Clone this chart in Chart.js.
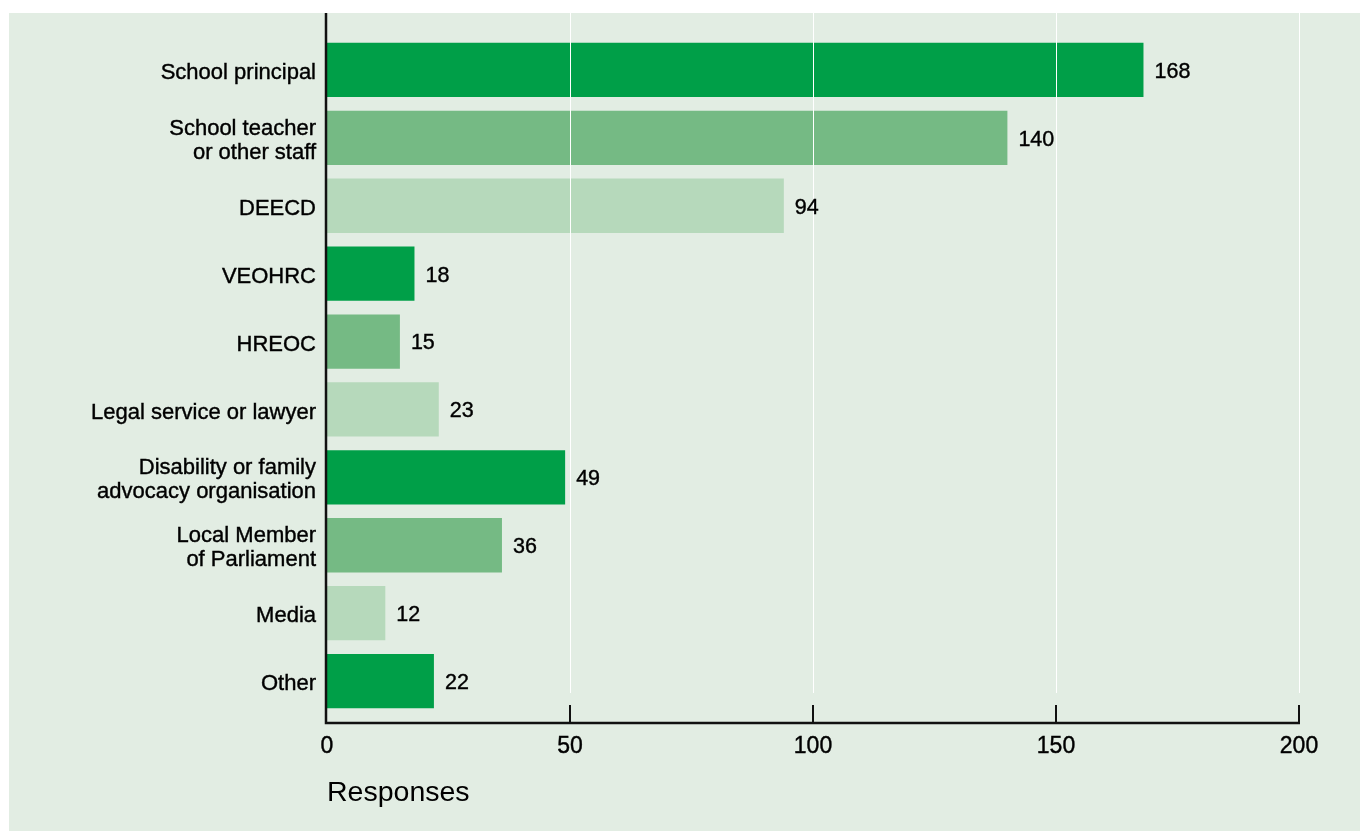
<!DOCTYPE html>
<html>
<head>
<meta charset="utf-8">
<script src="https://cdn.jsdelivr.net/npm/chart.js@4.4.1/dist/chart.umd.min.js"></script>
<style>
  html, body { margin: 0; padding: 0; background: #ffffff; }
  #wrap { position: relative; width: 1360px; height: 831px; }
</style>
</head>
<body>
<div id="wrap"><canvas id="c" width="1360" height="831"></canvas></div>
<script>
const categories = [
  'School principal',
  ['School teacher', 'or other staff'],
  'DEECD',
  'VEOHRC',
  'HREOC',
  'Legal service or lawyer',
  ['Disability or family', 'advocacy organisation'],
  ['Local Member', 'of Parliament'],
  'Media',
  'Other'
];
const responses = [168, 140, 94, 18, 15, 23, 49, 36, 12, 22];
const xTicks = [0, 50, 100, 150, 200];
const axisTitle = 'Responses';

const DARK = '#009f48', MID = '#75ba84', LIGHT = '#b6d9bb';
const PANEL = '#e2ede3';
const barColors = responses.map((v, i) => [DARK, MID, LIGHT][i % 3]);
const FONT = "'Liberation Sans', Arial, Helvetica, sans-serif";
const TEXT = '#000000';

const decor = {
  id: 'decor',
  beforeDraw(chart) {
    const ctx = chart.ctx;
    ctx.save();
    ctx.fillStyle = PANEL;
    ctx.fillRect(9, 13, chart.width - 9, chart.height - 13);
    ctx.restore();
  },
  afterDatasetsDraw(chart) {
    const ctx = chart.ctx;
    const xs = chart.scales.x;
    const area = chart.chartArea;
    const axisY = area.bottom + 8;
    const panelTop = 13;
    ctx.save();
    // white gridlines over bars
    ctx.strokeStyle = '#ffffff';
    ctx.lineWidth = 1;
    xTicks.forEach(t => {
      if (t === 0) return;
      const x = Math.round(xs.getPixelForValue(t)) + 0.5;
      ctx.beginPath();
      ctx.moveTo(x, panelTop);
      ctx.lineTo(x, axisY - 30);
      ctx.stroke();
    });
    // value labels
    ctx.fillStyle = TEXT;
    ctx.strokeStyle = TEXT;
    ctx.lineWidth = 0.4;
    ctx.font = '21.5px ' + FONT;
    ctx.textAlign = 'left';
    ctx.textBaseline = 'middle';
    const meta = chart.getDatasetMeta(0);
    meta.data.forEach((bar, i) => {
      ctx.strokeText(String(responses[i]), bar.x + 11, bar.y + 2);
      ctx.fillText(String(responses[i]), bar.x + 11, bar.y + 2);
    });
    // axes
    ctx.strokeStyle = '#111111';
    ctx.lineWidth = 2.5;
    const x0 = xs.getPixelForValue(0) - 1;
    ctx.beginPath();
    ctx.moveTo(x0, panelTop);
    ctx.lineTo(x0, axisY);
    ctx.lineTo(xs.getPixelForValue(200) + 1, axisY);
    ctx.stroke();
    ctx.lineWidth = 2;
    xTicks.forEach(t => {
      if (t === 0) return;
      const x = Math.round(xs.getPixelForValue(t));
      ctx.beginPath();
      ctx.moveTo(x, axisY - 18);
      ctx.lineTo(x, axisY);
      ctx.stroke();
    });
    ctx.restore();
  }
};

new Chart(document.getElementById('c'), {
  type: 'bar',
  data: {
    labels: categories,
    datasets: [{
      data: responses,
      backgroundColor: barColors,
      borderWidth: 0,
      barPercentage: 0.8,
      categoryPercentage: 1.0
    }]
  },
  options: {
    indexAxis: 'y',
    responsive: false,
    animation: false,
    events: [],
    layout: { padding: { top: 36, right: 61, left: 0, bottom: 0 } },
    plugins: { legend: { display: false }, tooltip: { enabled: false } },
    scales: {
      x: {
        type: 'linear',
        min: 0, max: 200,
        afterBuildTicks(scale) { scale.ticks = xTicks.map(v => ({ value: v })); },
        afterFit(scale) { scale.height = 116; },
        grid: { display: false, drawTicks: false },
        border: { display: false },
        ticks: { padding: 18, color: TEXT, textStrokeColor: TEXT, textStrokeWidth: 0.4, font: { family: FONT, size: 23 } },
        title: {
          display: true, text: axisTitle, align: 'start', color: TEXT,
          font: { family: FONT, size: 28.5 }, padding: { top: 21, bottom: 21 }
        }
      },
      y: {
        type: 'category',
        afterFit(scale) { scale.width = 327; },
        grid: { display: false, drawTicks: false },
        border: { display: false },
        ticks: { padding: 11, labelOffset: 3, color: TEXT, textStrokeColor: TEXT, textStrokeWidth: 0.4, font: { family: FONT, size: 22, lineHeight: 1.09 } }
      }
    }
  },
  plugins: [decor]
});
</script>
</body>
</html>
